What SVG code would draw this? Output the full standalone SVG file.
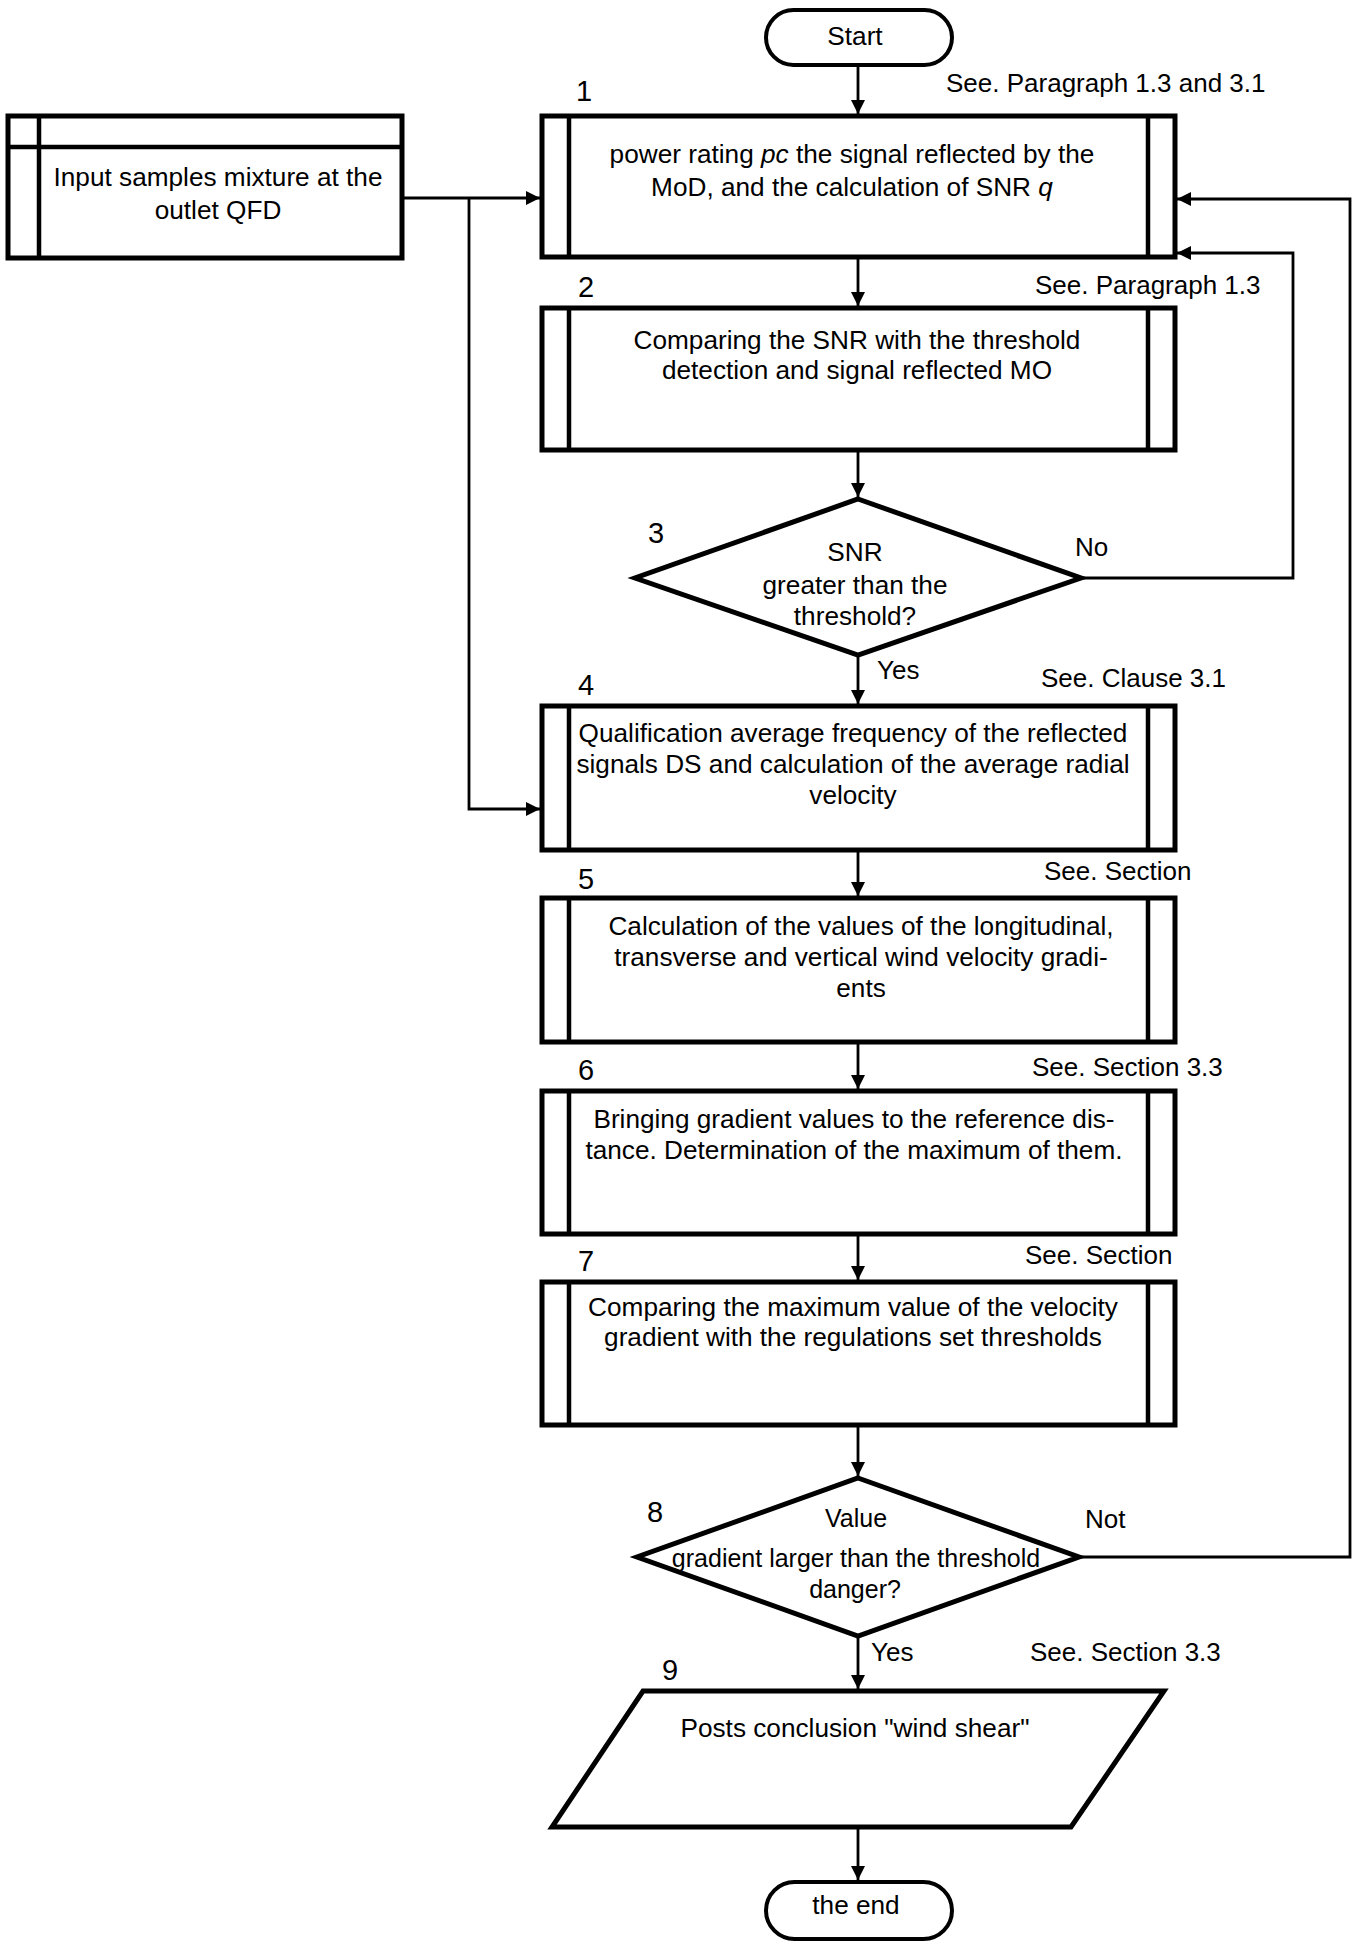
<svg xmlns="http://www.w3.org/2000/svg" width="1358" height="1946" viewBox="0 0 1358 1946">
<style>
.box{fill:#fff;stroke:#000;stroke-width:5}
.in{stroke:#000;stroke-width:4.5;fill:none}
.con{stroke:#000;stroke-width:2.8;fill:none}
.t{font-family:"Liberation Sans",Arial,sans-serif;font-size:26.2px;fill:#000;text-anchor:middle}
.d{font-family:"Liberation Sans",Arial,sans-serif;font-size:25px;fill:#000;text-anchor:middle}
.l{font-family:"Liberation Sans",Arial,sans-serif;font-size:26px;fill:#000}
.n{font-family:"Liberation Sans",Arial,sans-serif;font-size:29px;fill:#000;text-anchor:middle}
</style>
<defs>
<marker id="ar" markerUnits="userSpaceOnUse" markerWidth="14" markerHeight="14" refX="14" refY="7" orient="auto">
<path d="M0,0 L14,7 L0,14 z" fill="#000"/>
</marker>
</defs>
<rect width="1358" height="1946" fill="#fff"/>

<g id="connectors">
<line class="con" x1="858" y1="65" x2="858" y2="114" marker-end="url(#ar)"/>
<line class="con" x1="402" y1="198" x2="540" y2="198" marker-end="url(#ar)"/>
<polyline class="con" points="469,198 469,809 540,809" marker-end="url(#ar)"/>
<line class="con" x1="858" y1="258" x2="858" y2="306" marker-end="url(#ar)"/>
<line class="con" x1="858" y1="451" x2="858" y2="497" marker-end="url(#ar)"/>
<polyline class="con" points="1081,578 1293,578 1293,253 1177,253" marker-end="url(#ar)"/>
<line class="con" x1="858" y1="655" x2="858" y2="704" marker-end="url(#ar)"/>
<line class="con" x1="858" y1="851" x2="858" y2="896" marker-end="url(#ar)"/>
<line class="con" x1="858" y1="1043" x2="858" y2="1089" marker-end="url(#ar)"/>
<line class="con" x1="858" y1="1235" x2="858" y2="1280" marker-end="url(#ar)"/>
<line class="con" x1="858" y1="1426" x2="858" y2="1476" marker-end="url(#ar)"/>
<polyline class="con" points="1079,1557 1350,1557 1350,199 1177,199" marker-end="url(#ar)"/>
<line class="con" x1="858" y1="1636" x2="858" y2="1689" marker-end="url(#ar)"/>
<line class="con" x1="858" y1="1827" x2="858" y2="1880" marker-end="url(#ar)"/>
</g>

<g id="start">
<rect class="box" x="766" y="10" width="186" height="55" rx="27.5" style="stroke-width:4"/>
<text class="t" x="855" y="45">Start</text>
</g>

<g id="input">
<rect class="box" x="8" y="116" width="394" height="142"/>
<line class="in" x1="39" y1="116" x2="39" y2="258"/>
<line class="in" x1="8" y1="147" x2="402" y2="147"/>
<text class="t" x="218" y="186">Input samples mixture at the</text>
<text class="t" x="218" y="219">outlet QFD</text>
</g>

<g id="n1">
<rect class="box" x="542" y="116" width="633" height="141"/>
<line class="in" x1="569" y1="116" x2="569" y2="257"/>
<line class="in" x1="1148" y1="116" x2="1148" y2="257"/>
<text class="t" x="852" y="163">power rating <tspan font-style="italic">pc</tspan> the signal reflected by the</text>
<text class="t" x="852" y="196">MoD, and the calculation of SNR <tspan font-style="italic">q</tspan></text>
<text class="n" x="584" y="101">1</text>
<text class="l" x="946" y="92">See. Paragraph 1.3 and 3.1</text>
</g>

<g id="n2">
<rect class="box" x="542" y="308" width="633" height="142"/>
<line class="in" x1="569" y1="308" x2="569" y2="450"/>
<line class="in" x1="1148" y1="308" x2="1148" y2="450"/>
<text class="t" x="857" y="349">Comparing the SNR with the threshold</text>
<text class="t" x="857" y="379">detection and signal reflected MO</text>
<text class="n" x="586" y="297">2</text>
<text class="l" x="1035" y="294">See. Paragraph 1.3</text>
</g>

<g id="n3">
<polygon class="box" points="858,499 1081,578 858,655 635,578"/>
<text class="t" x="855" y="561">SNR</text>
<text class="t" x="855" y="594">greater than the</text>
<text class="t" x="855" y="625">threshold?</text>
<text class="n" x="656" y="543">3</text>
<text class="l" x="1075" y="556">No</text>
<text class="l" x="877" y="679">Yes</text>
</g>

<g id="n4">
<rect class="box" x="542" y="706" width="633" height="144"/>
<line class="in" x1="569" y1="706" x2="569" y2="850"/>
<line class="in" x1="1148" y1="706" x2="1148" y2="850"/>
<text class="t" x="853" y="742">Qualification average frequency of the reflected</text>
<text class="t" x="853" y="773">signals DS and calculation of the average radial</text>
<text class="t" x="853" y="804">velocity</text>
<text class="n" x="586" y="695">4</text>
<text class="l" x="1041" y="687">See. Clause 3.1</text>
</g>

<g id="n5">
<rect class="box" x="542" y="898" width="633" height="144"/>
<line class="in" x1="569" y1="898" x2="569" y2="1042"/>
<line class="in" x1="1148" y1="898" x2="1148" y2="1042"/>
<text class="t" x="861" y="935">Calculation of the values of the longitudinal,</text>
<text class="t" x="861" y="966">transverse and vertical wind velocity gradi-</text>
<text class="t" x="861" y="997">ents</text>
<text class="n" x="586" y="889">5</text>
<text class="l" x="1044" y="880">See. Section</text>
</g>

<g id="n6">
<rect class="box" x="542" y="1091" width="633" height="143"/>
<line class="in" x1="569" y1="1091" x2="569" y2="1234"/>
<line class="in" x1="1148" y1="1091" x2="1148" y2="1234"/>
<text class="t" x="854" y="1128">Bringing gradient values to the reference dis-</text>
<text class="t" x="854" y="1159">tance. Determination of the maximum of them.</text>
<text class="n" x="586" y="1080">6</text>
<text class="l" x="1032" y="1076">See. Section 3.3</text>
</g>

<g id="n7">
<rect class="box" x="542" y="1282" width="633" height="143"/>
<line class="in" x1="569" y1="1282" x2="569" y2="1425"/>
<line class="in" x1="1148" y1="1282" x2="1148" y2="1425"/>
<text class="t" x="853" y="1316">Comparing the maximum value of the velocity</text>
<text class="t" x="853" y="1346">gradient with the regulations set thresholds</text>
<text class="n" x="586" y="1271">7</text>
<text class="l" x="1025" y="1264">See. Section</text>
</g>

<g id="n8">
<polygon class="box" points="858,1478 1079,1557 858,1636 637,1557"/>
<text class="d" x="856" y="1527">Value</text>
<text class="d" x="856" y="1567">gradient larger than the threshold</text>
<text class="d" x="855" y="1598">danger?</text>
<text class="n" x="655" y="1522">8</text>
<text class="l" x="1085" y="1528">Not</text>
<text class="l" x="871" y="1661">Yes</text>
<text class="l" x="1030" y="1661">See. Section 3.3</text>
</g>

<g id="n9">
<polygon class="box" points="643,1691 1164,1691 1071,1827 552,1827"/>
<text class="t" x="855" y="1737">Posts conclusion "wind shear"</text>
<text class="n" x="670" y="1680">9</text>
</g>

<g id="end">
<rect class="box" x="766" y="1882" width="186" height="57" rx="28.5" style="stroke-width:4"/>
<text class="t" x="856" y="1914">the end</text>
</g>
</svg>
